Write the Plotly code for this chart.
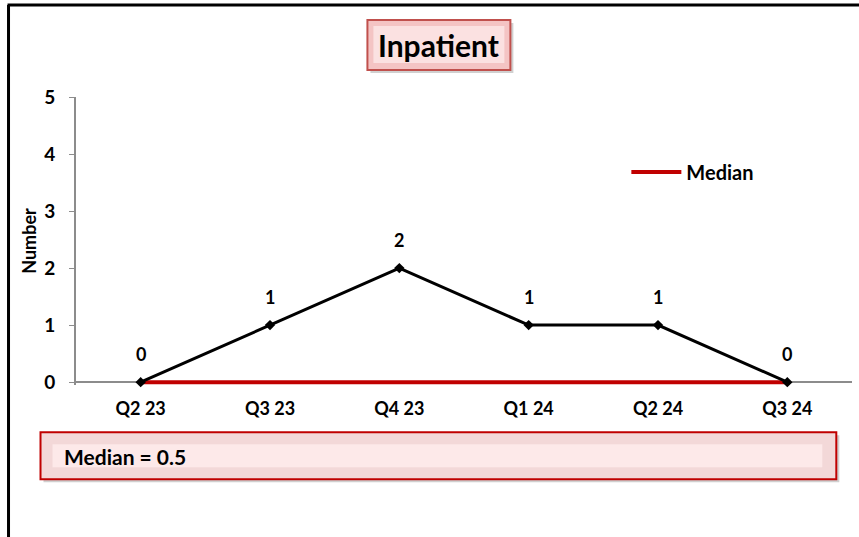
import plotly.graph_objects as go

categories = ["Q2 23", "Q3 23", "Q4 23", "Q1 24", "Q2 24", "Q3 24"]
values = [0, 1, 2, 1, 1, 0]
median_line = [0, 0, 0, 0, 0, 0]
median_value = 0.5
y_ticks = [0, 1, 2, 3, 4, 5]

FONT = "Lato"
W, H = 859, 537
Y_LO = -0.05
UNIT = 57.0  # px per y unit
L, R, T = 75.5, 7.3, 97
B = 155 + Y_LO * UNIT
pw = W - L - R
ph = H - T - B

def px(x):
    return (x - L) / pw

def py(y):
    return (H - B - y) / ph

fig = go.Figure()
fig.add_trace(go.Scatter(
    x=categories, y=median_line, mode="lines", name="Median",
    line=dict(color="#c00000", width=4), showlegend=True, cliponaxis=False,
))
fig.add_trace(go.Scatter(
    x=categories, y=values, mode="lines+markers", name="Inpatient",
    line=dict(color="black", width=3),
    marker=dict(symbol="diamond", size=8, color="black"),
    showlegend=False, cliponaxis=False,
))

for c, v in zip(categories, values):
    fig.add_annotation(x=c, y=v, text=f"<b>{v}</b>", showarrow=False,
                       yshift=28, font=dict(family=FONT, size=18, color="black"))

shapes = []
# outer frame (left and top lines)
shapes.append(dict(type="line", xref="paper", yref="paper", x0=px(8), x1=px(8),
                   y0=py(5), y1=py(545), line=dict(color="black", width=3), layer="above"))
shapes.append(dict(type="line", xref="paper", yref="paper", x0=px(7), x1=px(870),
                   y0=py(5), y1=py(5), line=dict(color="black", width=3), layer="above"))
# title box shadow + box
shapes.append(dict(type="rect", xref="paper", yref="paper", x0=px(370), x1=px(513),
                   y0=py(73), y1=py(23), fillcolor="rgba(120,120,120,0.35)",
                   line=dict(width=0)))
shapes.append(dict(type="rect", xref="paper", yref="paper", x0=px(367), x1=px(510),
                   y0=py(70), y1=py(20), fillcolor="#f4c4c4",
                   line=dict(color="#c0504d", width=2)))
shapes.append(dict(type="rect", xref="paper", yref="paper", x0=px(373), x1=px(504),
                   y0=py(63), y1=py(26), fillcolor="#fbe1e1",
                   line=dict(width=0)))
# median box shadow + box
shapes.append(dict(type="rect", xref="paper", yref="paper", x0=px(43), x1=px(839),
                   y0=py(482), y1=py(435), fillcolor="rgba(120,120,120,0.35)",
                   line=dict(width=0)))
shapes.append(dict(type="rect", xref="paper", yref="paper", x0=px(40), x1=px(836),
                   y0=py(479), y1=py(432), fillcolor="#f3d8d8",
                   line=dict(color="#c00000", width=2)))
shapes.append(dict(type="rect", xref="paper", yref="paper", x0=px(52), x1=px(822),
                   y0=py(467), y1=py(444), fillcolor="#fde9e9",
                   line=dict(width=0)))
fig.update_layout(shapes=shapes)

fig.add_annotation(xref="paper", yref="paper", x=px(438.5), y=py(45),
                   xanchor="center", yanchor="middle",
                   text="<b>Inpatient</b>", showarrow=False,
                   font=dict(family=FONT, size=30, color="black"))
fig.add_annotation(xref="paper", yref="paper", x=px(61), y=py(456),
                   xanchor="left", yanchor="middle",
                   text=f"<b>Median = {median_value}</b>", showarrow=False,
                   font=dict(family=FONT, size=21, color="black"))

fig.update_layout(
    width=W, height=H,
    margin=dict(l=L, r=R, t=T, b=B, autoexpand=False),
    plot_bgcolor="white", paper_bgcolor="white",
    font=dict(family=FONT, color="black"),
    legend=dict(x=px(626), y=py(172), xanchor="left", yanchor="middle",
                bgcolor="rgba(0,0,0,0)", itemwidth=50,
                font=dict(family=FONT, size=20, color="black", weight="bold")),
    xaxis=dict(
        type="category", categoryorder="array", categoryarray=categories,
        range=[-0.5, 5.5], showline=False,
        showgrid=False, ticks="", zeroline=False, ticklabelstandoff=11,
        layer="below traces",
        tickfont=dict(family=FONT, size=18, color="black", weight="bold"),
    ),
    yaxis=dict(
        range=[Y_LO, 5], tickvals=y_ticks, showline=True, linecolor="#8c8c8c",
        linewidth=2, showgrid=False, ticks="outside", ticklen=5,
        tickcolor="#8c8c8c", zeroline=True, zerolinecolor="#8c8c8c",
        zerolinewidth=2, ticklabelstandoff=10,
        layer="below traces",
        tickfont=dict(family=FONT, size=19, color="black", weight="bold"),
        title=dict(text="<b>Number</b>", standoff=3,
                   font=dict(family=FONT, size=18, color="black")),
    ),
)

fig.write_html("out.html", config={"displayModeBar": False},
               post_script="document.body.style.margin='0px';document.body.style.overflow='hidden';")
